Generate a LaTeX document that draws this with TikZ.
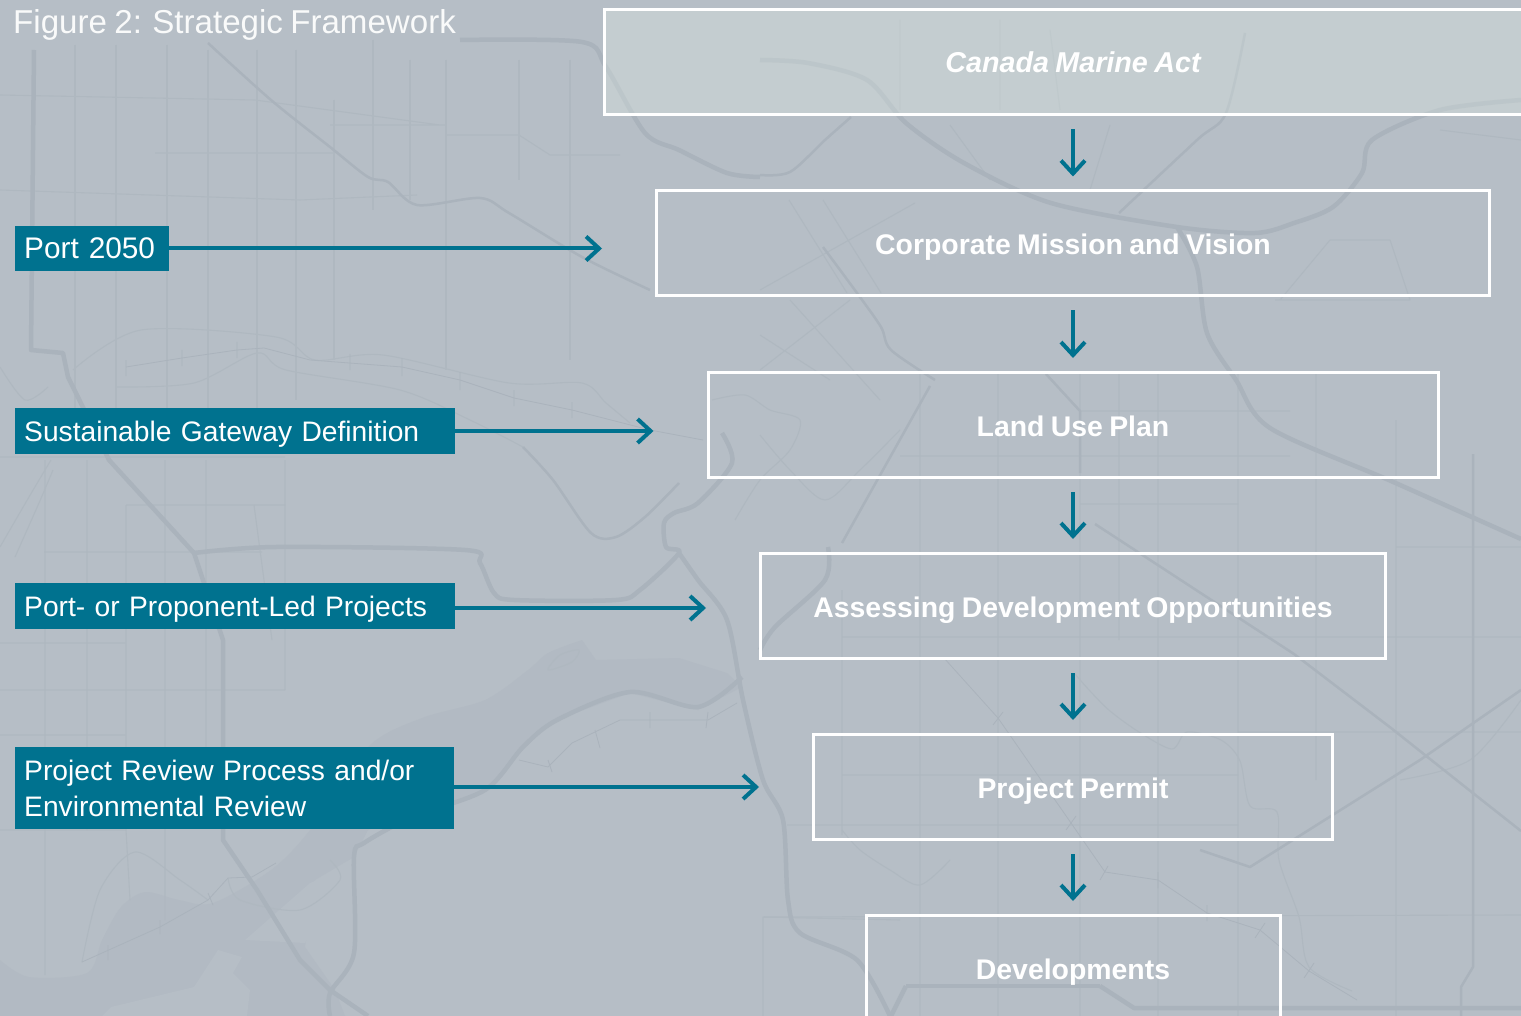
\documentclass[tikz,border=0pt]{standalone}
\usepackage{fontspec}
\usepackage{xcolor}
\usetikzlibrary{arrows.meta}
\setmainfont[WordSpace=0.8]{Liberation Sans}
\definecolor{mapbg}{RGB}{182,190,198}
\definecolor{mapriver}{RGB}{178,186,195}
\definecolor{mapthick}{RGB}{170,179,188}
\definecolor{mapthin}{RGB}{175,184,192}
\definecolor{boxtint}{RGB}{217,228,223}
\definecolor{portteal}{RGB}{0,114,143}
\tikzset{
  roadthick/.style={draw=mapthick,line width=4.5pt,line join=round},
  roadmid/.style={draw=mapthick,line width=2.5pt,line join=round},
  roadthin/.style={draw=mapthin,line width=1.1pt,line join=round},
  railthin/.style={draw=mapthick,line width=.8pt,line join=round},
  stagebox/.style={draw=white,line width=3pt,inner sep=0pt,text=white,align=center,text height=29pt,text depth=6pt,font=\fontsize{28.4}{34}\selectfont\bfseries},
  toolbox/.style={fill=portteal,anchor=west,inner ysep=0pt,inner xsep=9pt,text=white,align=left,font=\fontsize{28.2}{36}\selectfont},
  downarrow/.style={draw=portteal,line width=4pt,-{Straight Barb[length=13pt,width=24pt]},shorten <=13pt,shorten >=13pt},
  sidearrow/.style={draw=portteal,line width=4pt,-{Straight Barb[length=13pt,width=24pt]},shorten >=53pt}
}
\begin{document}
\begin{tikzpicture}[x=1pt,y=-1pt]
\useasboundingbox (0,0) rectangle (1521,1016);
\clip (0,0) rectangle (1521,1016);
\fill [mapbg] (0,0) rectangle (1521,1016);
\fill [mapriver] plot[smooth] coordinates {(0,960) (29,977) (87,973) (102,940) (121,907) (145,892) (179,900) (213,903) (271,870) (310,830) (368,747) (422,718) (485,700) (528,670) (548,653) (582,640)} -- (596,660) -- (679,658) -- (727,673) -- (742,687) -- (698,710) -- (630,693) -- (548,723) -- (485,790) -- (368,830) -- (354,857) -- (315,880) -- (305,947) -- (335,990) -- (345,1016) -- (0,1016) -- cycle;
\fill [mapbg] (218,950) -- (194,987) -- (111,1007) -- (102,1016) -- (247,1016) -- (250,990) -- (233,973) -- (242,957) -- cycle;
\fill [mapbg] (245,940) -- (310,883) -- (334,873) -- (344,873) -- (325,907) -- (305,943) -- cycle;
\draw [roadthin] plot[smooth cycle] coordinates {(548,670) (560,655) (579,650) (572,662)};
\draw [roadthin] (34,50) -- (34,60) (75,45) -- (75,440) (116,45) -- (116,425) (167,45) -- (167,420) (208,50) -- (208,410) (257,50) -- (257,430) (296,50) -- (296,400) (334,100) -- (334,360) (373,40) -- (373,210) (410,60) -- (410,200) (446,60) -- (446,370) (519,60) -- (519,180) (570,60) -- (570,360);
\draw [roadthin] (45,460) -- (45,830) (87,460) -- (87,830) (126,505) -- (126,830) (165,460) -- (165,860) (206,460) -- (206,750) (254,505) -- (272,640) (285,460) -- (285,690) (45,830) -- (45,975) (126,830) -- (130,900) (165,860) -- (165,920);
\draw [roadthin] (0,95) -- (255,100) -- (440,125) (155,153) -- (335,153) (0,190) -- (300,200) -- (417,195) (330,125) -- (446,125) (446,135) -- (519,135) -- (550,155) -- (620,155) (0,457) -- (285,457) (44,552) -- (262,552) (126,505) -- (285,505) (0,690) -- (285,690) (0,735) -- (125,735) (0,643) -- (125,643) (0,830) -- (126,830);
\draw [roadthin] (842,590) -- (842,835) (920,372) -- (920,1016) (998,372) -- (998,1016) (1080,372) -- (1080,1016) (1119,372) -- (1119,640) (1158,372) -- (1158,1016) (1238,372) -- (1238,1016) (1316,372) -- (1316,780) (1396,420) -- (1396,1016) (763,1016) -- (763,917) -- (900,920);
\draw [roadthin] (900,456) -- (1290,456) (1080,504) -- (1238,504) (842,637) -- (1521,637) (1238,732) -- (1521,732) (842,775) -- (1238,775) (787,825) -- (1238,825) (764,917) -- (1521,915) (1396,547) -- (1521,547) (1080,411) -- (1290,411);
\draw [roadthin] (789,200) -- (847,293) (823,200) -- (881,293) (760,290) -- (915,203) (760,335) -- (830,380) (790,300) -- (880,400) (850,300) -- (760,370) (1280,300) -- (1330,240) -- (1390,240) -- (1410,300) -- (1275,300) (1050,30) -- (1060,110) (900,20) -- (900,110) (1000,20) -- (1000,110) (950,125) -- (990,180) (1110,125) -- (1090,190) (1440,130) -- (1521,140);
\draw [roadthin] plot[smooth] coordinates {(1075,674) (1090,691) (1110,711) (1139,732) (1172,749) (1187,732) (1221,740) (1240,761) (1250,806) (1277,812) (1279,860) (1299,917) (1309,967) (1352,991)};
\draw [roadthin] plot[smooth] coordinates {(842,830) (860,850) (890,870) (920,885) (950,860)};
\draw [roadthin] plot[smooth] coordinates {(73,370) (141,330) (276,337) (315,360) (383,355) (509,383) (582,383) (606,403) (630,423)};
\draw [roadthin] plot[smooth] coordinates {(116,387) (194,383) (257,353) (286,370) (400,390) (470,420) (523,447)};
\draw [roadthin] plot[smooth] coordinates {(82,962) (100,890) (135,852) (180,880) (208,900)};
\draw [roadthin] plot[smooth] coordinates {(228,878) (240,900) (300,910) (340,880) (330,860)};
\draw [roadthin] plot[smooth] coordinates {(51,460) (29,497) (0,547)};
\draw [roadthin] plot[smooth] coordinates {(53,470) (39,503) (15,557)};
\draw [roadthin] plot[smooth] coordinates {(0,367) (25,400) (48,387)};
\draw [roadthin] plot[smooth] coordinates {(712,400) (745,395) (770,410) (800,420) (790,450) (760,480) (735,520)};
\draw [roadthin] plot[smooth] coordinates {(760,435) (790,470) (825,500) (860,470) (900,430)};
\draw [roadthin] plot[smooth] coordinates {(1400,780) (1470,760) (1521,700)};
\draw [railthin] (944,658) -- (998,718) -- (1071,823) -- (1105,872) -- (1158,880) -- (1207,913) -- (1260,930) -- (1309,971) -- (1357,1000);
\draw [railthin] (126,367) -- (182,358) -- (237,350) -- (264,348) -- (310,360) -- (402,367) -- (460,380) -- (514,398) -- (572,410) -- (650,430) -- (703,440);
\draw [railthin] (82,962) -- (160,927) -- (208,900) -- (228,878) -- (252,877) -- (276,863) (519,760) -- (548,767) -- (572,743) -- (620,720) -- (708,720) -- (737,703);
\draw [railthin] (126,360) -- (126,376) (182,350) -- (182,366) (237,342) -- (237,358) (350,354) -- (350,370) (402,358) -- (402,376) (460,372) -- (460,390) (514,390) -- (514,406) (572,402) -- (572,418) (650,712) -- (650,728) (708,712) -- (706,728) (595,730) -- (600,748) (548,760) -- (552,772) (160,920) -- (160,934) (108,945) -- (108,960) (208,893) -- (213,905) (993,725) -- (1003,712) (1066,830) -- (1076,816) (1100,880) -- (1108,866) (1158,872) -- (1158,888) (1207,905) -- (1207,921) (1255,938) -- (1265,923) (1304,978) -- (1314,963);
\draw [roadmid] plot[smooth] coordinates {(208,43) (271,100) (330,147) (368,177) (388,182) (417,205) (480,198) (509,213) (582,257) (650,290)};
\draw [roadmid] plot[smooth] coordinates {(1245,33) (1226,113) (1197,140) (1119,213)};
\draw [roadmid] plot[smooth] coordinates {(760,175) (790,172) (825,140) (851,117)};
\draw [roadmid] plot[smooth] coordinates {(823,247) (857,293) (881,327) (891,350) (935,380)};
\draw [roadmid] plot[smooth] coordinates {(523,447) (553,480) (591,533) (616,537) (645,517) (679,483)};
\draw [roadmid] (1095,524) -- (1294,654) -- (1391,728) -- (1464,786) -- (1521,831);
\draw [roadmid] (1046,374) -- (1080,411) -- (1080,473);
\draw [roadmid] (842,543) -- (930,386);
\draw [roadmid] (1473,454) -- (1473,967) -- (1461,987) -- (1461,1016);
\draw [roadmid] (1200,850) -- (1250,867) -- (1420,760) -- (1521,690);
\draw [roadthick] plot[smooth] coordinates {(460,40) (582,42) (606,67) (645,133) (679,150) (727,173) (760,177)};
\draw [roadthick] plot[smooth] coordinates {(760,60) (808,63) (867,80) (906,123) (964,163) (1051,203) (1177,227) (1255,233) (1294,223) (1333,207) (1362,173) (1372,140) (1440,110) (1521,100)};
\draw [roadthick] plot[smooth] coordinates {(1177,227) (1197,267) (1207,333) (1236,380) (1270,428) (1391,481) (1521,539)};
\draw [roadthick] plot[smooth] coordinates {(679,553) (698,580) (727,620) (743,700) (763,780) (783,820) (788,900) (800,933) (857,960) (890,1016)};
\draw [roadthick] plot[smooth] coordinates {(906,986) (1100,986)};
\draw [roadthick] (891,1016) -- (906,986) (1100,986) -- (1134,1008) -- (1521,1008);
\draw [roadthick] plot[smooth] coordinates {(330,1016) (330,993) (354,953) (354,857) (364,843) (412,817) (485,790) (523,747) (557,720) (630,692) (698,707) (742,677)};
\draw [roadthick] (34,50) -- (31,350) -- (63,353) -- (68,377) -- (109,460) -- (194,553) -- (223,640) -- (223,840) -- (257,890) -- (300,960) -- (330,990) -- (368,1016);
\draw [roadthick] plot[smooth] coordinates {(194,553) (276,547) (465,550) (480,563) (494,593) (514,600) (616,600) (640,590) (679,553) (666,547) (664,523) (674,513) (698,503) (732,463) (722,433)};
\draw [roadthick] plot[smooth] coordinates {(760,650) (775,627) (825,580) (828,547)};

\node (title) [anchor=west,inner sep=0pt,text=white!92!mapbg,font=\fontsize{33.1}{38}\selectfont] at (13,25) {Figure 2: Strategic Framework};

\node (act) [stagebox,fill=boxtint,fill opacity=.4,text opacity=1,draw opacity=1,minimum width=938pt,minimum height=105pt,text height=26pt,font=\fontsize{28.7}{34}\selectfont\bfseries\itshape] at (1073,62.5) {Canada Marine Act};
\node (mission) [stagebox,minimum width=833pt,minimum height=105pt] at (1073,243.5) {Corporate Mission and Vision};
\node (landuse) [stagebox,minimum width=730pt,minimum height=105pt] at (1073,425) {Land Use Plan};
\node (assessing) [stagebox,minimum width=625pt,minimum height=105pt] at (1073,606) {Assessing Development Opportunities};
\node (permit) [stagebox,minimum width=519pt,minimum height=105pt] at (1073,787) {Project Permit};
\node (develop) [stagebox,minimum width=414pt,minimum height=105pt] at (1073,968) {Developments};

\node (port) [toolbox,text width=136pt,minimum height=45pt,text height=26pt,text depth=6pt,font=\fontsize{29.8}{36}\selectfont] at (15,248.5) {Port 2050};
\node (gateway) [toolbox,text width=422pt,minimum height=46pt,text height=26pt,text depth=6pt] at (15,431) {Sustainable Gateway Definition};
\node (projects) [toolbox,text width=422pt,minimum height=46pt,text height=26pt,text depth=6pt] at (15,606) {Port- or Proponent-Led Projects};
\node (review) [toolbox,text width=421pt,minimum height=82pt] at (15,788) {Project Review Process and/or\\Environmental Review};

\draw [downarrow] (act) -- (mission);
\draw [downarrow] (mission) -- (landuse);
\draw [downarrow] (landuse) -- (assessing);
\draw [downarrow] (assessing) -- (permit);
\draw [downarrow] (permit) -- (develop);

\draw [sidearrow] (port.east) -- (port.east -| mission.west);
\draw [sidearrow] (gateway.east) -- (gateway.east -| landuse.west);
\draw [sidearrow] ([yshift=-2pt]projects.east) -- ([yshift=-2pt]projects.east -| assessing.west);
\draw [sidearrow] ([yshift=1pt]review.east) -- ([yshift=1pt]review.east -| permit.west);
\end{tikzpicture}
\end{document}
